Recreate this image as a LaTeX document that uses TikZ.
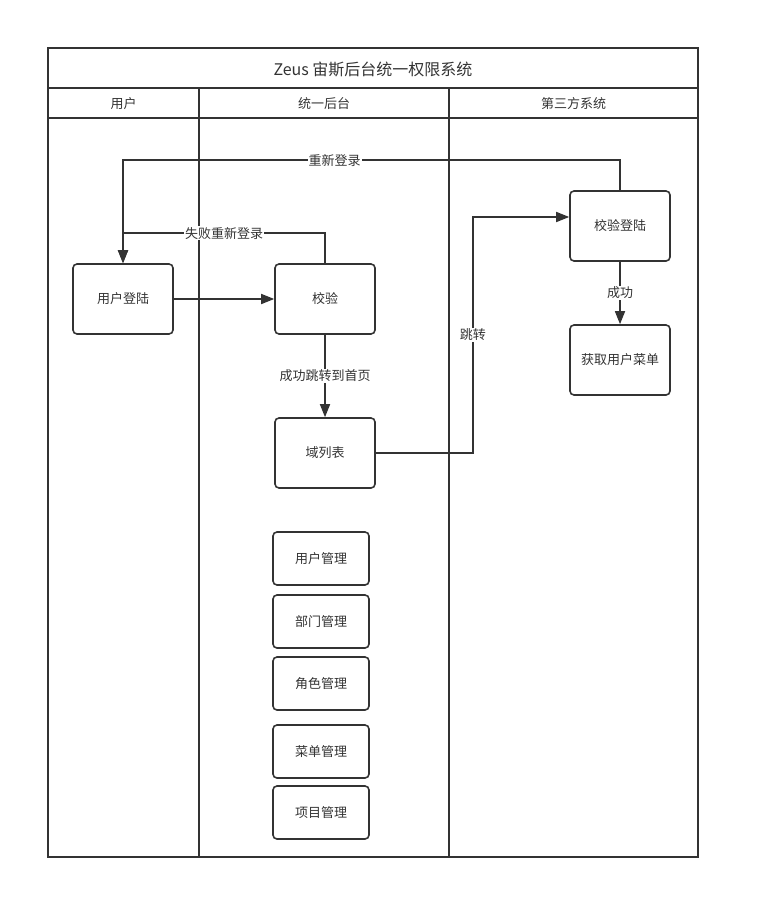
\documentclass[tikz,border=0pt]{standalone}
\usepackage{fontspec}
\setmainfont{Noto Sans CJK SC}
\usetikzlibrary{arrows.meta}
\definecolor{ln}{HTML}{333333}
\begin{document}
\begin{tikzpicture}[x=1pt,y=-1pt,
 box/.style={draw=ln, line width=1.6pt, rounded corners=4pt, minimum width=100pt, minimum height=70pt, font=\fontsize{13}{15}\selectfont, text=ln, inner sep=0pt},
 mbox/.style={box, minimum width=96pt, minimum height=53pt},
 conn/.style={draw=ln, line width=1.6pt, -{Triangle[length=13pt,width=10pt]}},
 lbl/.style={fill=white, inner sep=1pt, font=\fontsize{13}{15}\selectfont, text=ln},
 lane/.style={draw=ln, line width=1.6pt},
 hdr/.style={font=\fontsize{13}{15}\selectfont, text=ln, inner sep=0pt}]
\useasboundingbox (0,0) rectangle (761,920);
% pool
\draw[lane] (48,48) rectangle (698,857);
\draw[lane] (48,88) -- (698,88);
\draw[lane] (48,118) -- (698,118);
\draw[lane] (199,88) -- (199,857);
\draw[lane] (449,88) -- (449,857);
\node[hdr, font=\fontsize{16}{18}\selectfont] (title) at (373,69) {Zeus 宙斯后台统一权限系统};
\node[hdr] (h1) at (123.5,104) {用户};
\node[hdr] (h2) at (324,104) {统一后台};
\node[hdr] (h3) at (573.5,104) {第三方系统};
% nodes
\node[box] (login) at (123,299) {用户登陆};
\node[box] (verify) at (325,299) {校验};
\node[box] (domain) at (325,453) {域列表};
\node[box] (vlogin) at (620,226) {校验登陆};
\node[box] (menu) at (620,360) {获取用户菜单};
\node[mbox] (m1) at (321,558.5) {用户管理};
\node[mbox] (m2) at (321,621.5) {部门管理};
\node[mbox] (m3) at (321,683.5) {角色管理};
\node[mbox] (m4) at (321,751.5) {菜单管理};
\node[mbox] (m5) at (321,812.5) {项目管理};
% connectors
\draw[conn] (login) -- (verify);
\draw[conn] (verify.north) -- ++(0,-30) -| node[lbl, pos=0.25] {失败重新登录} (login.north);
\draw[conn] (vlogin.north) -- ++(0,-30) -| node[lbl, pos=0.287] {重新登录} (login.north);
\draw[conn] (verify) -- node[lbl] {成功跳转到首页} (domain);
\draw[conn] (domain.east) -- ++(97,0) |- node[lbl, pos=0.25] {跳转} ([yshift=9pt]vlogin.west);
\draw[conn] (vlogin) -- node[lbl] {成功} (menu);
\end{tikzpicture}
\end{document}
